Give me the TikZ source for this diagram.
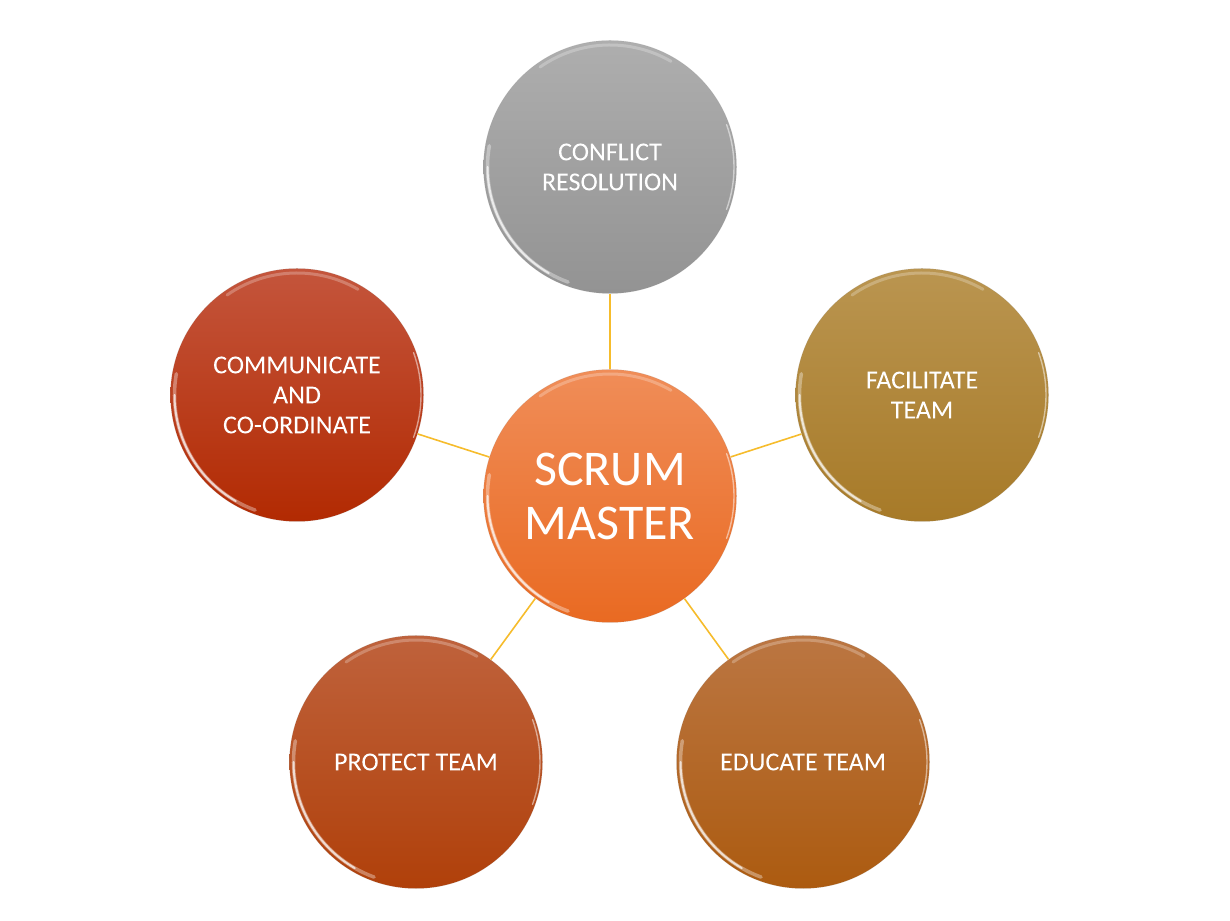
\documentclass[tikz,border=0pt]{standalone}
\usepackage{fontspec}
\setmainfont{Carlito}[FakeBold=0.6]
\newfontfamily\plainfont{Carlito}
\begin{document}
\begin{tikzpicture}[x=1pt,y=1pt,
  bead/.style={circle, minimum size=253pt, inner sep=0pt, shading=axis,
    draw=white!60!black, draw opacity=0.2, line width=0.6pt,
    text=white, align=center, font=\fontsize{26}{30}\selectfont},
  bigtext/.style={font=\plainfont\fontsize{50}{54}\selectfont},
  link/.style={draw=linkcol, line width=1.6pt},
  rimA/.style={white, opacity=0.7, line width=2pt, line cap=round},
  rimA2/.style={white, opacity=0.35, line width=3.5pt, line cap=round},
  rimB/.style={white, opacity=0.25, line width=3pt, line cap=round},
  rimC/.style={white, opacity=0.5, line width=1.4pt, line cap=round}]
\definecolor{linkcol}{HTML}{F6BC2C}
\useasboundingbox (0,0) rectangle (1230,920);
\newcommand\bead[5]{%
  \node[bead, #4] (#1) at (#2,#3) {#5};
  \draw[rimA2] ([shift={(170:122.5)}]#1.center) arc[start angle=170,end angle=250,radius=122.5];
  \draw[rimA] ([shift={(180:122.5)}]#1.center) arc[start angle=180,end angle=240,radius=122.5];
  \draw[rimB] ([shift={(60:122)}]#1.center) arc[start angle=60,end angle=125,radius=122];
  \draw[rimC] ([shift={(-20:124)}]#1.center) arc[start angle=-20,end angle=20,radius=124];
}
\definecolor{gT}{HTML}{AEAEAE}\definecolor{gB}{HTML}{939393}
\definecolor{fT}{HTML}{BA9550}\definecolor{fB}{HTML}{A77A28}
\definecolor{eT}{HTML}{BB7642}\definecolor{eB}{HTML}{AC5B10}
\definecolor{pT}{HTML}{BF623C}\definecolor{pB}{HTML}{B0400A}
\definecolor{cT}{HTML}{C4553C}\definecolor{cB}{HTML}{B22A02}
\definecolor{sT}{HTML}{F08D58}\definecolor{sB}{HTML}{E96A22}
\bead{conf}{610}{753}{top color=gT, bottom color=gB}{CONFLICT\\RESOLUTION}
\bead{fac}{922}{525}{top color=fT, bottom color=fB}{FACILITATE\\TEAM}
\bead{edu}{803}{158}{top color=eT, bottom color=eB}{EDUCATE TEAM}
\bead{prot}{416}{158}{top color=pT, bottom color=pB}{PROTECT TEAM}
\bead{comm}{297}{525}{top color=cT, bottom color=cB}{COMMUNICATE\\AND\\CO-ORDINATE}
\bead{scrum}{610}{424}{top color=sT, bottom color=sB, bigtext}{SCRUM\\MASTER}
\draw[link] (scrum) -- (conf);
\draw[link] (scrum) -- (fac);
\draw[link] (scrum) -- (edu);
\draw[link] (scrum) -- (prot);
\draw[link] (scrum) -- (comm);
\end{tikzpicture}
\end{document}
